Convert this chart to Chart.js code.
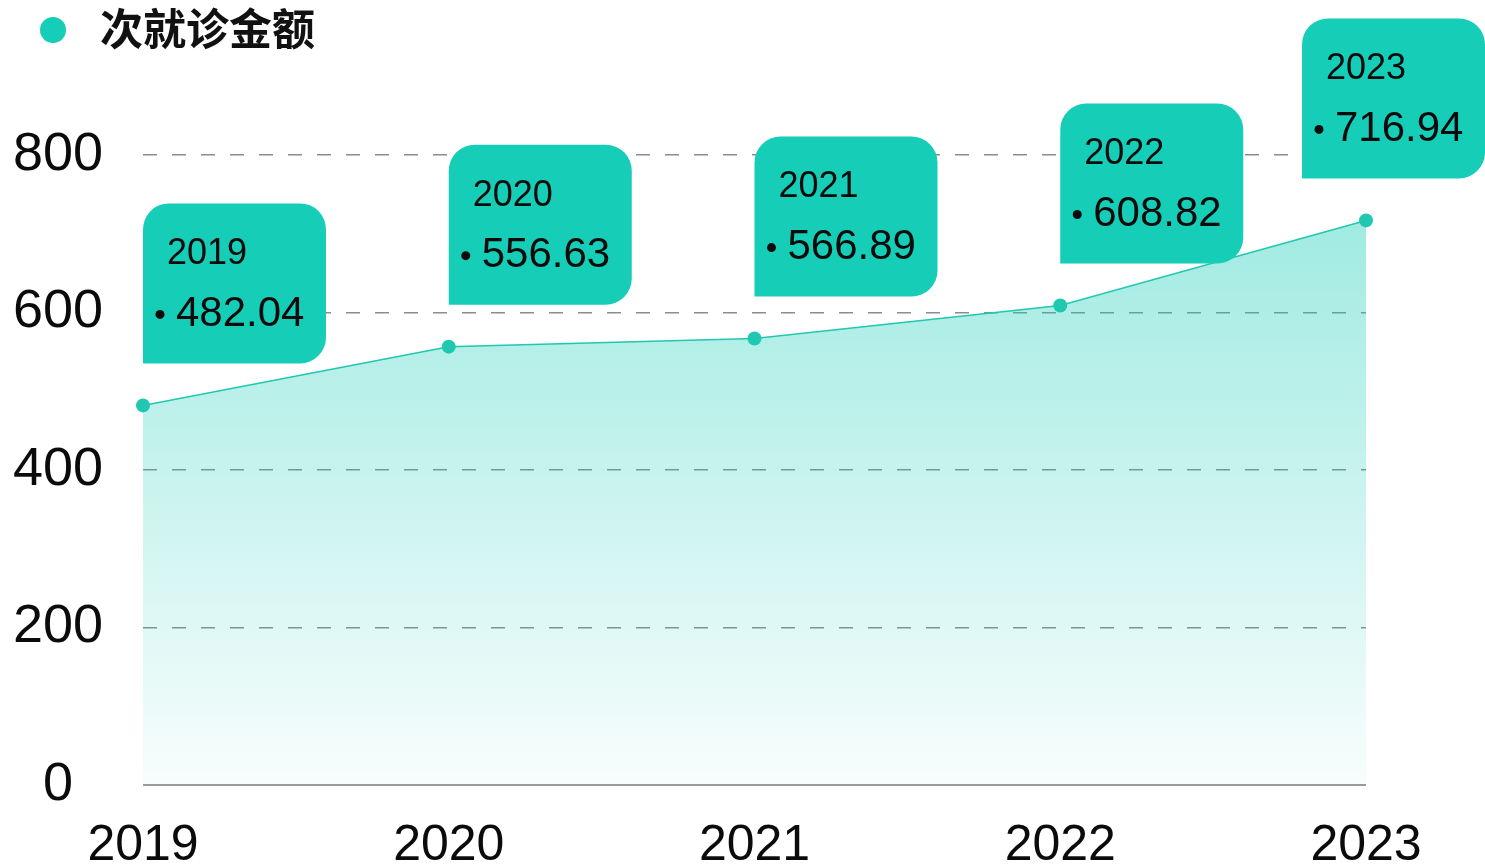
<!DOCTYPE html>
<html>
<head>
<meta charset="utf-8">
<script src="https://cdn.jsdelivr.net/npm/chart.js@4/dist/chart.umd.min.js"></script>
<style>
  html, body { margin: 0; padding: 0; background: #fff; }
  #wrap { width: 1485px; height: 865px; }
</style>
</head>
<body>
<div id="wrap"><canvas id="chart"></canvas></div>
<script>
// 数据
const years = ['2019', '2020', '2021', '2022', '2023'];
const amounts = [482.04, 556.63, 566.89, 608.82, 716.94];
const yTicks = [0, 200, 400, 600, 800];
const seriesName = '次就诊金额';

const TEAL = '#16cdb8';
const FONT = '"Liberation Sans", Arial, sans-serif';

// 左上角图例
const legendPlugin = {
  id: 'topLegend',
  afterDraw(chart) {
    const ctx = chart.ctx;
    ctx.save();
    ctx.fillStyle = TEAL;
    ctx.beginPath();
    ctx.arc(53, 30, 13, 0, Math.PI * 2);
    ctx.fill();
    ctx.fillStyle = '#111';
    ctx.font = '600 43px "Noto Sans CJK SC", sans-serif';
    ctx.textBaseline = 'middle';
    ctx.fillText(seriesName, 100, 29);
    ctx.restore();
  }
};

// 0 刻度处的实线底轴
const baseLinePlugin = {
  id: 'baseLine',
  beforeDatasetsDraw(chart) {
    const { ctx, chartArea, scales } = chart;
    const y = scales.y.getPixelForValue(0);
    ctx.save();
    ctx.strokeStyle = '#9a9a9a';
    ctx.lineWidth = 2;
    ctx.beginPath();
    ctx.moveTo(chartArea.left, y);
    ctx.lineTo(chartArea.right, y);
    ctx.stroke();
    ctx.restore();
  }
};

// 每个点上方的数值标签框
const boxLabelPlugin = {
  id: 'boxLabels',
  afterDatasetsDraw(chart) {
    const ctx = chart.ctx;
    const meta = chart.getDatasetMeta(0);
    const w = 183, h = 160, r = 26;
    ctx.save();
    meta.data.forEach((pt, i) => {
      let left = pt.x;
      if (left + w > chart.width) left = chart.width - w;
      const bottom = pt.y - 42;
      const top = bottom - h;
      ctx.fillStyle = TEAL;
      ctx.beginPath();
      ctx.roundRect(left, top, w, h, [r, r, r, 0]);
      ctx.fill();

      ctx.fillStyle = '#0b0b0b';
      ctx.textBaseline = 'middle';
      ctx.font = '36px ' + FONT;
      ctx.fillText(years[i], left + 24, top + 51);
      ctx.beginPath();
      ctx.arc(left + 17, top + 111, 4.5, 0, Math.PI * 2);
      ctx.fill();
      ctx.font = '42px ' + FONT;
      ctx.fillText(amounts[i].toFixed(2), left + 33, top + 111);
    });
    ctx.restore();
  }
};

const ctx = document.getElementById('chart').getContext('2d');
new Chart(ctx, {
  type: 'line',
  data: {
    labels: years,
    datasets: [{
      label: seriesName,
      data: amounts,
      borderColor: '#20c8b0',
      borderWidth: 1.5,
      pointRadius: 7,
      pointHoverRadius: 7,
      pointBackgroundColor: '#20c8b0',
      pointBorderWidth: 0,
      tension: 0,
      fill: 'origin',
      backgroundColor(context) {
        const area = context.chart.chartArea;
        if (!area) return 'rgba(22,205,184,0.3)';
        const g = context.chart.ctx.createLinearGradient(0, area.top, 0, area.bottom);
        g.addColorStop(0, 'rgba(22,205,184,0.45)');
        g.addColorStop(1, 'rgba(22,205,184,0.03)');
        return g;
      }
    }]
  },
  options: {
    responsive: true,
    maintainAspectRatio: false,
    animation: false,
    layout: { padding: { top: 155, left: 0, right: 119, bottom: 0 } },
    plugins: {
      legend: { display: false },
      tooltip: { enabled: false }
    },
    scales: {
      x: {
        offset: false,
        grid: { display: false },
        border: { display: false },
        afterFit(axis) { axis.height = 80; },
        ticks: {
          color: '#0b0b0b',
          font: { family: FONT, size: 50 },
          padding: 23,
          maxRotation: 0
        }
      },
      y: {
        min: 0,
        max: 800,
        afterBuildTicks(axis) {
          axis.ticks = yTicks.map(v => ({ value: v }));
        },
        afterFit(axis) { axis.width = 143; },
        grid: {
          color(c) { return c.tick.value === 0 ? 'rgba(0,0,0,0)' : '#8c8c8c'; },
          lineWidth: 1.5,
          drawTicks: false
        },
        border: { display: false, dash: [14, 15] },
        ticks: {
          color: '#0b0b0b',
          font: { family: FONT, size: 54 },
          padding: 40,
          crossAlign: 'center'
        }
      }
    }
  },
  plugins: [legendPlugin, baseLinePlugin, boxLabelPlugin]
});
</script>
</body>
</html>
